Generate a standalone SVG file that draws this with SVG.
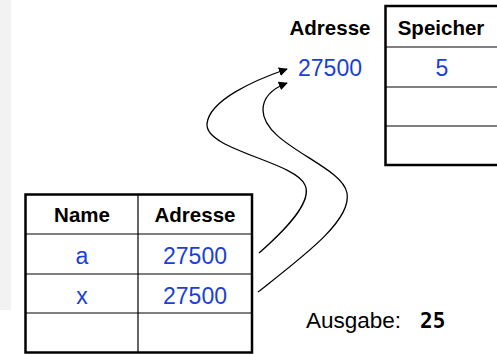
<svg xmlns="http://www.w3.org/2000/svg" width="497" height="354" viewBox="0 0 497 354">
<defs>
<marker id="ah" viewBox="0 0 10 10" refX="9" refY="5" markerWidth="9" markerHeight="9" markerUnits="userSpaceOnUse" orient="auto">
<path d="M0,0 L10,5 L0,10 Z" fill="#000"/>
</marker>
<style>
.hdr{font-family:"Liberation Sans",Arial,sans-serif;font-weight:bold;font-size:20.5px;fill:#000;text-anchor:middle}
.val{font-family:"Liberation Sans",Arial,sans-serif;font-size:23px;fill:#1a3fd6;text-anchor:middle}
.outer{fill:#fff;stroke:#000;stroke-width:2.5}
.line{stroke:#000;stroke-width:1.2}
.conn{fill:none;stroke:#000;stroke-width:1.3;marker-end:url(#ah)}
</style>
</defs>
<rect x="0" y="0" width="11" height="310" fill="#f2f2f2"/>
<g id="speicher">
<rect class="outer" x="385.5" y="6" width="130" height="159"/>
<line class="line" x1="385" y1="47" x2="497" y2="47"/>
<line class="line" x1="385" y1="87" x2="497" y2="87"/>
<line class="line" x1="385" y1="126" x2="497" y2="126"/>
<text class="hdr" x="330" y="35">Adresse</text>
<text class="hdr" x="441" y="35">Speicher</text>
<text class="val" x="330" y="76">27500</text>
<text class="val" x="442" y="76">5</text>
</g>
<g id="variablen">
<rect class="outer" x="25.5" y="194.5" width="226.5" height="158"/>
<line class="line" x1="138" y1="194" x2="138" y2="353"/>
<line class="line" x1="25" y1="234" x2="252" y2="234"/>
<line class="line" x1="25" y1="274" x2="252" y2="274"/>
<line class="line" x1="25" y1="313" x2="252" y2="313"/>
<text class="hdr" x="82" y="222">Name</text>
<text class="hdr" x="195" y="222">Adresse</text>
<text class="val" x="82" y="264">a</text>
<text class="val" x="195" y="264">27500</text>
<text class="val" x="82" y="304">x</text>
<text class="val" x="195" y="304">27500</text>
</g>
<g id="connectors">
<path class="conn" d="M259,253 C292,224 312,200 305,185 C296,162 205,150 207,124 C209,100 255,80 287,69"/>
<path class="conn" d="M258,292 C305,255 352,220 347,193 C342,165 263,145 263,110 C263,96 274,88 287,83"/>
</g>
<g id="ausgabe">
<text x="306" y="328" font-family="Liberation Sans, Arial, sans-serif" font-size="22.5px" fill="#000">Ausgabe:</text>
<text x="420" y="328" font-family="DejaVu Sans Mono, monospace" font-weight="bold" font-size="21px" fill="#000">25</text>
</g>
</svg>
